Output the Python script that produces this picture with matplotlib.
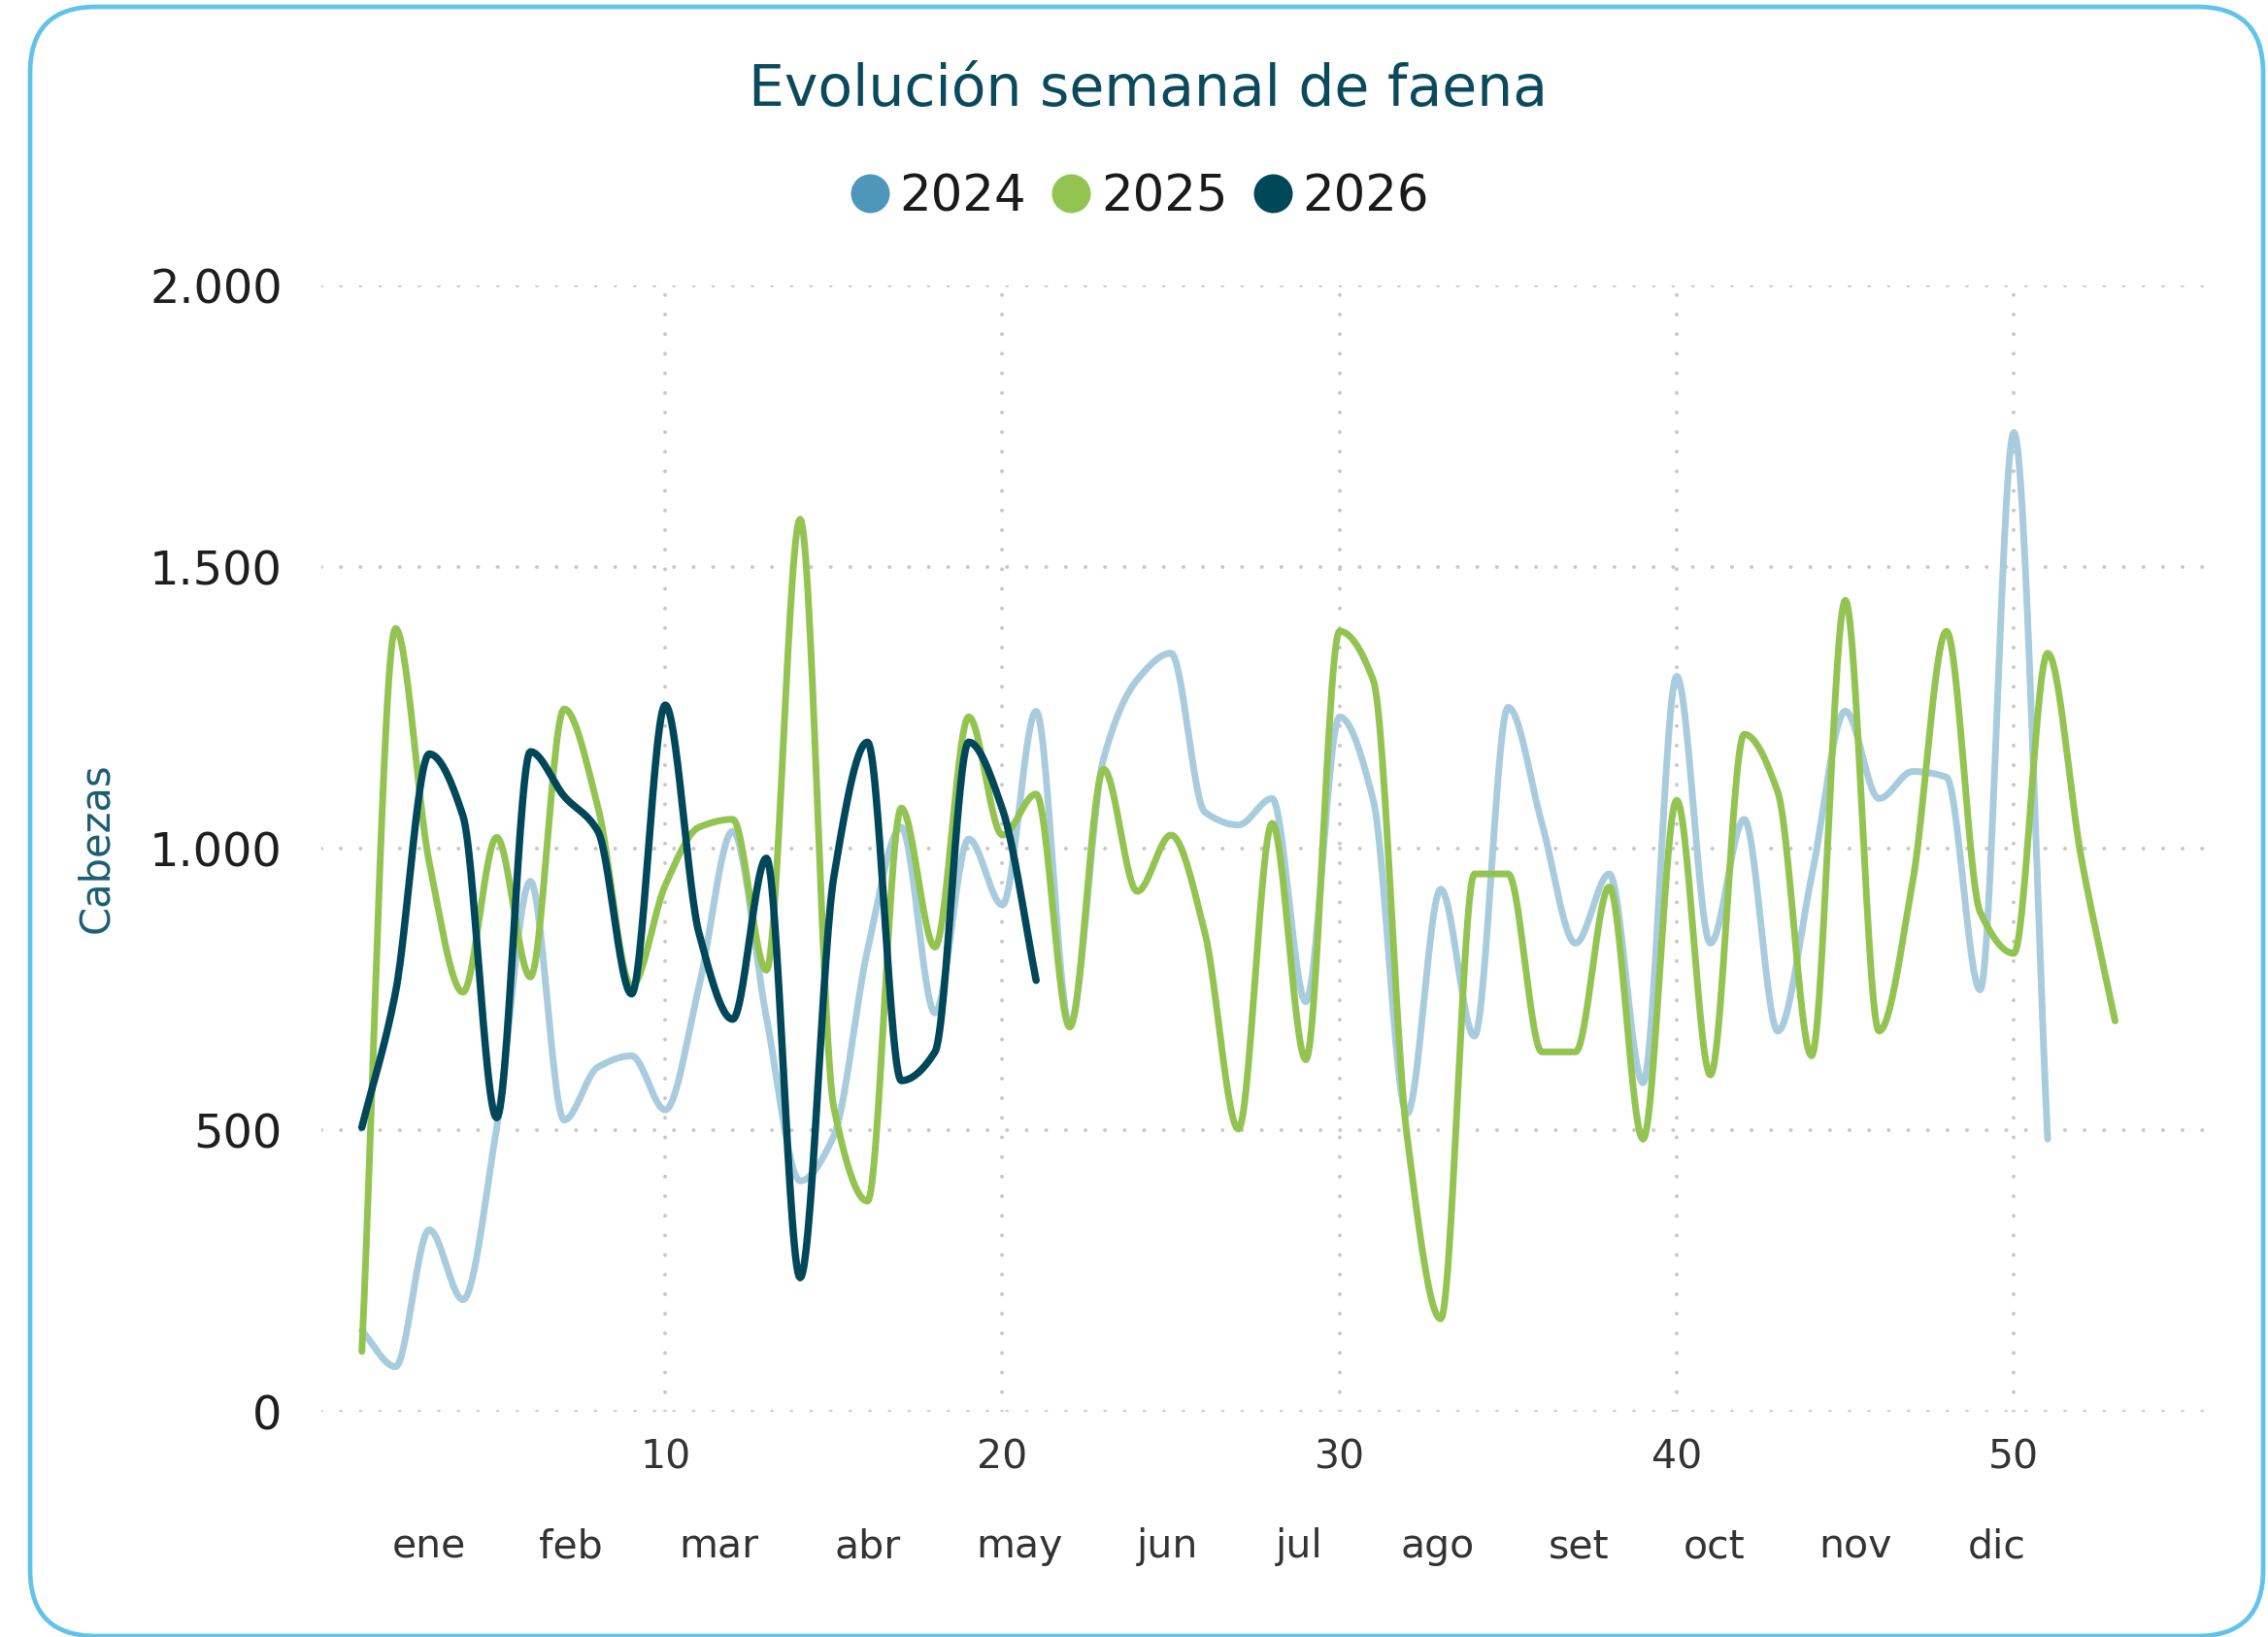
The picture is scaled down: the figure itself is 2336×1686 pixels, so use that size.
import numpy as np
import matplotlib
matplotlib.use("Agg")
import matplotlib.pyplot as plt
from matplotlib.lines import Line2D
from matplotlib.patches import FancyBboxPatch
from matplotlib.transforms import IdentityTransform
from matplotlib.ticker import FuncFormatter

# datos semanales de faena (cabezas)
faena_2024 = [144, 80, 323, 199, 505, 942, 518, 612, 632, 536,
              755, 1031, 700, 410, 490, 820, 1038, 708, 1017, 900,
              1244, 687, 1160, 1300, 1347, 1065, 1042, 1089, 728, 1234,
              1086, 529, 928, 667, 1251, 1045, 832, 955, 584, 1306,
              832, 1052, 676, 950, 1244, 1089, 1137, 1127, 749, 1739,
              484]
faena_2025 = [107, 1391, 975, 745, 1020, 772, 1248, 1075, 756, 935,
              1038, 1052, 784, 1585, 540, 374, 1072, 825, 1234, 1024,
              1097, 683, 1141, 924, 1024, 852, 502, 1045, 625, 1386,
              1299, 490, 165, 955, 955, 639, 639, 932, 484, 1086,
              598, 1203, 1100, 632, 1441, 676, 942, 1386, 887, 814,
              1347, 983, 694]
faena_2026 = [505, 745, 1168, 1058, 522, 1172, 1093, 1031, 742, 1255,
              850, 697, 983, 238, 950, 1189, 588, 639, 1189, 1070,
              766]

anios = ['2024', '2025', '2026']
meses = ['ene', 'feb', 'mar', 'abr', 'may', 'jun', 'jul', 'ago', 'set', 'oct', 'nov', 'dic']
semana_mes = [3.0, 7.2, 11.6, 16.0, 20.5, 24.9, 28.8, 32.9, 37.1, 41.1, 45.3, 49.5]

color_linea = {'2024': '#A8CCDE', '2025': '#93C452', '2026': '#00475A'}
color_leyenda = {'2024': '#4F97BA', '2025': '#93C452', '2026': '#00475A'}
grosor = {'2024': 5.0, '2025': 5.0, '2026': 5.4}


def suavizar(y, n=30):
    # interpolacion monotona (pchip) solo para dibujar la curva
    y = np.asarray(y, dtype=float)
    x = np.arange(1, len(y) + 1, dtype=float)
    delta = np.diff(y)
    d = np.zeros_like(y)
    for k in range(1, len(y) - 1):
        if delta[k - 1] * delta[k] > 0:
            d[k] = 2.0 / (1.0 / delta[k - 1] + 1.0 / delta[k])
    d[0] = delta[0]
    d[-1] = delta[-1]
    xs, ys = [], []
    t = np.linspace(0, 1, n, endpoint=False)
    h00 = 2 * t**3 - 3 * t**2 + 1
    h10 = t**3 - 2 * t**2 + t
    h01 = -2 * t**3 + 3 * t**2
    h11 = t**3 - t**2
    for k in range(len(y) - 1):
        xs.append(x[k] + t)
        ys.append(h00 * y[k] + h10 * d[k] + h01 * y[k + 1] + h11 * d[k + 1])
    xs.append([x[-1]])
    ys.append([y[-1]])
    return np.concatenate(xs), np.concatenate(ys)


plt.rcParams['font.family'] = ['DejaVu Sans']
plt.rcParams['lines.dash_capstyle'] = 'round'

W, H = 2336, 1686
fig = plt.figure(figsize=(W / 100, H / 100), dpi=100)

# marco redondeado
marco = FancyBboxPatch((31, 1), 2300, 1678, boxstyle="round,pad=0,rounding_size=68",
                       transform=IdentityTransform(), facecolor='none',
                       edgecolor='#62C3EA', linewidth=3.4, zorder=10)
fig.patches.append(marco)

ax = fig.add_axes([331 / W, (H - 1454) / H, (2275 - 331) / W, 1160 / H])
ax.set_facecolor('none')
ax.set_xlim(-0.2, 55.78)
ax.set_ylim(0, 2000)

for s in ax.spines.values():
    s.set_visible(False)

ax.set_yticks([0, 500, 1000, 1500, 2000])
ax.yaxis.set_major_formatter(FuncFormatter(lambda v, p: f"{v:,.0f}".replace(',', '.')))
ax.set_xticks([10, 20, 30, 40, 50])
ax.tick_params(axis='y', length=0, pad=29, labelsize=34.5, labelcolor='#1E1E1E')
ax.tick_params(axis='x', length=0, pad=20, labelsize=29.5, labelcolor='#333333')
ax.grid(True, color='#C8C8C8', linestyle=(0, (0.01, 5)), linewidth=2.9)
ax.set_axisbelow(True)

series = {'2024': faena_2024, '2025': faena_2025, '2026': faena_2026}
for i, anio in enumerate(anios):
    xs, ys = suavizar(series[anio])
    ax.plot(xs, ys, color=color_linea[anio], linewidth=grosor[anio],
            solid_capstyle='round', solid_joinstyle='round', zorder=3 + i)

for mes, pos in zip(meses, semana_mes):
    ax.text(pos, -0.12, mes, transform=ax.get_xaxis_transform(), ha='center', va='center',
            fontsize=29.5, color='#333333')

fig.text(0.506, 1 - 93 / H, 'Evolución semanal de faena', ha='center', va='center',
         fontsize=42, color='#0A4A5C')
fig.text(99 / W, 1 - 873 / H, 'Cabezas', rotation=90, ha='center', va='center',
         fontsize=30, color='#1A5E72')

handles = [Line2D([], [], marker='o', linestyle='', markersize=28.8,
                  color=color_leyenda[a], markeredgewidth=0) for a in anios]
fig.legend(handles, anios, loc='center', bbox_to_anchor=(0.5024, 1 - 203 / H),
           ncol=3, frameon=False, fontsize=37, handlelength=0.8, handletextpad=0.2,
           columnspacing=0.5, borderaxespad=0, labelcolor='#1A1A1A')

fig.savefig('out.png', dpi=100)
